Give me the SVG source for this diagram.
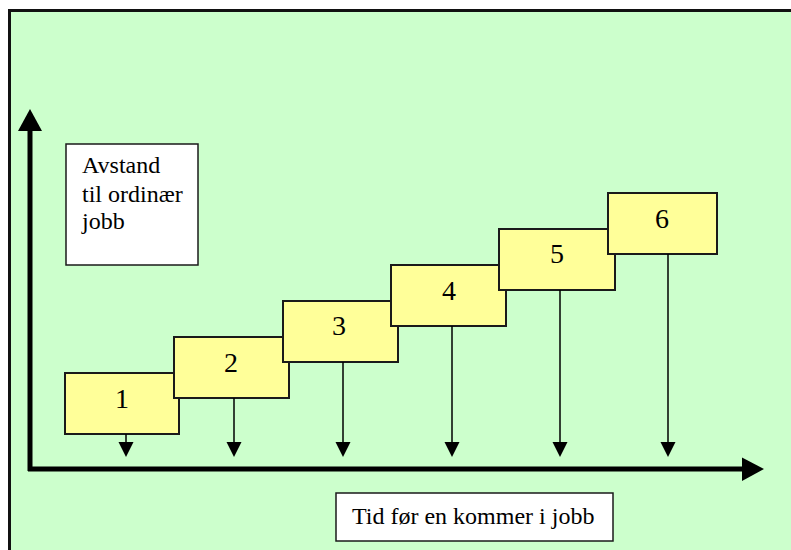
<svg xmlns="http://www.w3.org/2000/svg" width="791" height="550" viewBox="0 0 791 550">
<style>
.box{fill:#FFFF99;stroke:#1a1a1a;stroke-width:2}
.lbl{fill:#FFFFFF;stroke:#1a1a1a;stroke-width:1.5}
.num{font-family:'Liberation Serif','Times New Roman',Tinos,'DejaVu Serif',serif;font-size:28px;fill:#000;text-anchor:middle}
.txt{font-family:'Liberation Serif','Times New Roman',Tinos,'DejaVu Serif',serif;font-size:24px;fill:#000}
.drop{stroke:#000;stroke-width:1.5;fill:none}
.axis{stroke:#000;stroke-width:5;fill:none}
</style>
<rect id="frame" x="9.5" y="10.5" width="800" height="560" fill="#CCFFCC" stroke="#111" stroke-width="3"/>
<g id="box1"><rect class="box" x="65" y="373" width="114" height="61"/><text class="num" x="122" y="408">1</text></g>
<g id="box2"><rect class="box" x="174" y="337" width="115" height="61"/><text class="num" x="231" y="372">2</text></g>
<g id="box3"><rect class="box" x="283" y="301" width="115" height="61"/><text class="num" x="339" y="335">3</text></g>
<g id="box4"><rect class="box" x="391" y="265" width="115" height="61"/><text class="num" x="449" y="300">4</text></g>
<g id="box5"><rect class="box" x="499" y="229" width="116" height="61"/><text class="num" x="557" y="263">5</text></g>
<g id="box6"><rect class="box" x="608" y="193" width="109" height="61"/><text class="num" x="662" y="228">6</text></g>
<g id="ylabel"><rect class="lbl" x="66" y="144" width="132" height="121"/>
<text class="txt" x="82" y="173">Avstand</text>
<text class="txt" x="82" y="202">til ordinær</text>
<text class="txt" x="82" y="229">jobb</text></g>
<g id="xlabel"><rect class="lbl" x="336" y="493" width="277" height="48"/>
<text class="txt" x="352" y="524">Tid før en kommer i jobb</text></g>
<g id="connectors">
<line class="drop" x1="126" y1="434" x2="126" y2="442" />
<path d="M118.5,442 L133.5,442 L126,457 Z"/>
<line class="drop" x1="234" y1="398" x2="234" y2="442"/>
<path d="M226.5,442 L241.5,442 L234,457 Z"/>
<line class="drop" x1="343" y1="362" x2="343" y2="442"/>
<path d="M335.5,442 L350.5,442 L343,457 Z"/>
<line class="drop" x1="452" y1="326" x2="452" y2="442"/>
<path d="M444.5,442 L459.5,442 L452,457 Z"/>
<line class="drop" x1="560" y1="290" x2="560" y2="442"/>
<path d="M552.5,442 L567.5,442 L560,457 Z"/>
<line class="drop" x1="668" y1="254" x2="668" y2="442"/>
<path d="M660.5,442 L675.5,442 L668,457 Z"/>
<line class="axis" x1="30" y1="471" x2="30" y2="129"/>
<path d="M18,131 L30,109 L42,131 Z"/>
<line class="axis" x1="28" y1="469" x2="744" y2="469"/>
<path d="M742,457.5 L764,469 L742,481 Z"/>
</g>
</svg>
